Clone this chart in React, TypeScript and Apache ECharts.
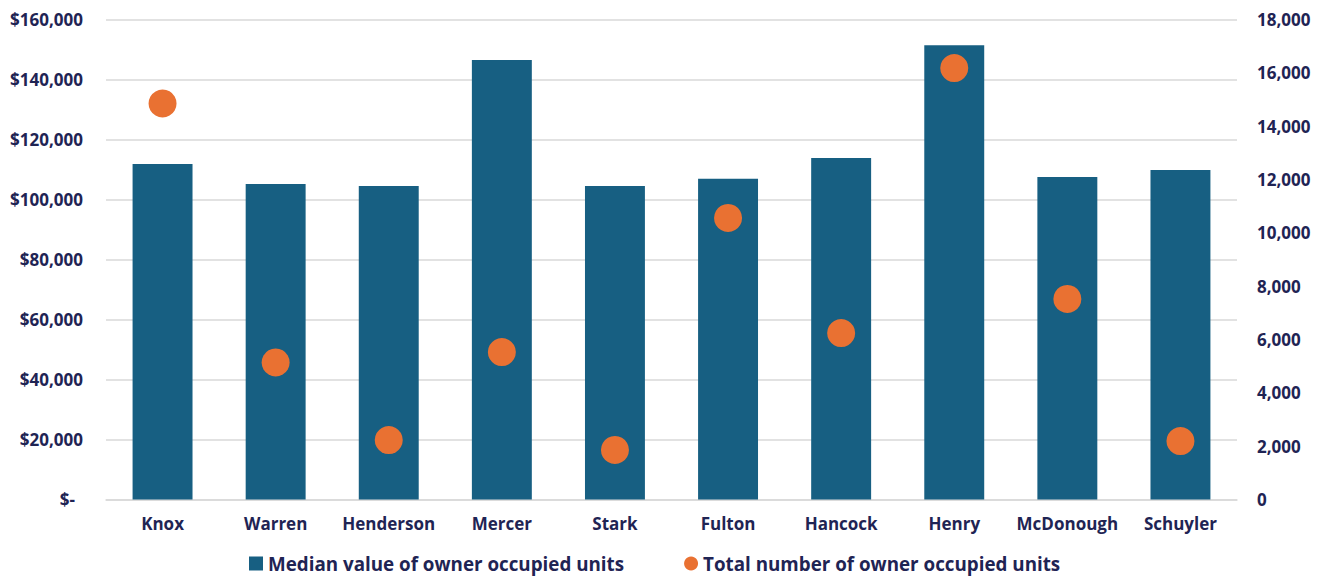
import React, { useEffect, useRef } from "react";
import * as echarts from "echarts";

const categories = ["Knox", "Warren", "Henderson", "Mercer", "Stark", "Fulton", "Hancock", "Henry", "McDonough", "Schuyler"];
const medianValue = [111800, 105200, 104500, 146500, 104500, 106900, 113800, 151400, 107500, 109800];
const totalUnits = [14850, 5140, 2230, 5530, 1860, 10560, 6240, 16180, 7520, 2190];
const leftTicks = { min: 0, max: 160000, interval: 20000 };
const rightTicks = { min: 0, max: 18000, interval: 2000 };
const seriesNames = ["Median value of owner occupied units", "Total number of owner occupied units"];

const TEXT = "#1f2454";
const FONT = "'Open Sans', sans-serif";

export default function App() {
  const ref = useRef<HTMLDivElement>(null);
  useEffect(() => {
    if (!ref.current) return;
    const chart = echarts.init(ref.current, null, { renderer: "svg" });
    chart.setOption({
      animation: false,
      backgroundColor: "#ffffff",
      textStyle: { fontFamily: FONT },
      grid: { left: 106, right: 86, top: 19.5, bottom: 76.5, containLabel: false },
      legend: {
        bottom: -2,
        left: 244,
        itemGap: 60,
        itemWidth: 14,
        itemHeight: 14,
        textStyle: { color: TEXT, fontFamily: FONT, fontWeight: "bold", fontSize: 18.8 },
        data: [
          { name: seriesNames[0], icon: "rect", itemStyle: { color: "#175f82" } },
          { name: seriesNames[1], icon: "circle", itemWidth: 18, itemHeight: 18 } as any,
        ],
      },
      xAxis: {
        type: "category",
        data: categories,
        axisLine: { show: true, lineStyle: { color: "#d9d9d9", width: 1.5 } },
        axisTick: { show: false },
        axisLabel: { color: TEXT, fontFamily: FONT, fontWeight: "bold", fontSize: 17, margin: 15.5, interval: 0 },
      },
      yAxis: [
        {
          type: "value",
          min: leftTicks.min,
          max: leftTicks.max,
          interval: leftTicks.interval,
          axisLine: { show: false },
          axisTick: { show: false },
          splitLine: { lineStyle: { color: "#d9d9d9", width: 1.5 } },
          axisLabel: {
            color: TEXT,
            fontFamily: FONT,
            fontWeight: "bold",
            fontSize: 17,
            margin: 23,
            formatter: (v: number) => (v === 0 ? "{d|$-}" : "$" + v.toLocaleString("en-US")),
            rich: { d: { color: TEXT, fontFamily: FONT, fontWeight: "bold", fontSize: 17, padding: [0, 8, 0, 0] } },
          },
        },
        {
          type: "value",
          position: "right",
          min: rightTicks.min,
          max: rightTicks.max,
          interval: rightTicks.interval,
          axisLine: { show: false },
          axisTick: { show: false },
          splitLine: { show: false },
          axisLabel: {
            color: TEXT,
            fontFamily: FONT,
            fontWeight: "bold",
            fontSize: 17,
            margin: 20,
            formatter: (v: number) => v.toLocaleString("en-US"),
          },
        },
      ],
      series: [
        {
          name: seriesNames[0],
          type: "bar",
          data: medianValue,
          barWidth: "53%",
          itemStyle: { color: "#175f82" },
          yAxisIndex: 0,
        },
        {
          name: seriesNames[1],
          type: "scatter",
          data: totalUnits,
          yAxisIndex: 1,
          symbol: "circle",
          symbolSize: 28,
          itemStyle: { color: "#e97132", opacity: 1 },
        },
      ],
    });
    return () => chart.dispose();
  }, []);
  return <div ref={ref} style={{ position: "fixed", left: 0, top: 0, width: 1323, height: 576 }} />;
}
